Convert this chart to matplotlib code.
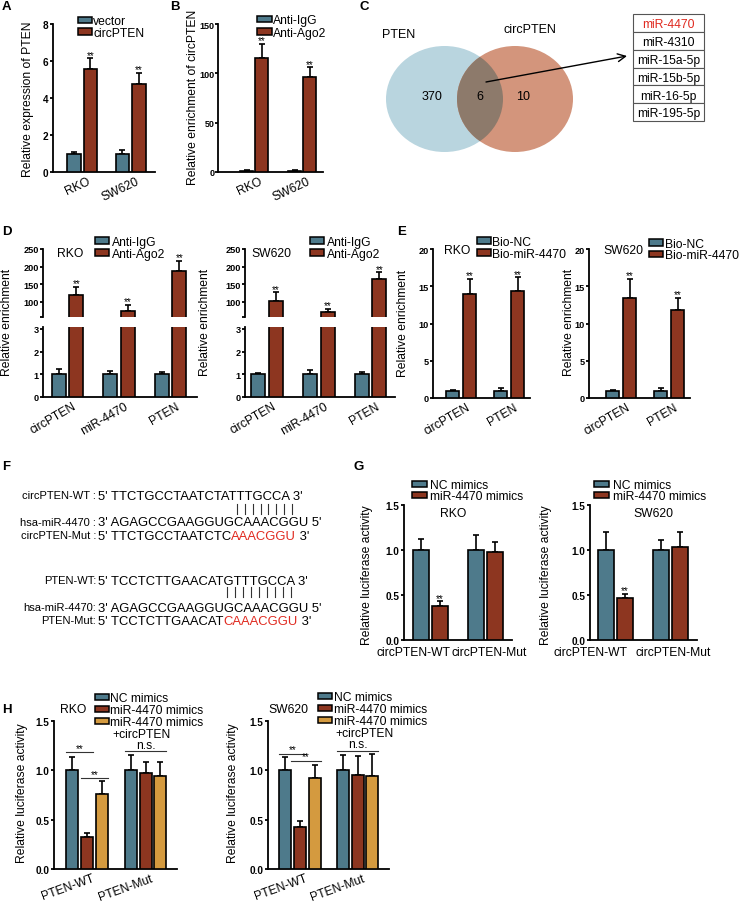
import numpy as np
import matplotlib
matplotlib.use("Agg")
import matplotlib.pyplot as plt
from matplotlib.patches import Rectangle, Ellipse

plt.rcParams['font.family'] = ['Liberation Sans', 'DejaVu Sans']

# ------------------------------------------------------------------ data
A_groups = ["RKO", "SW620"]
A_vector = [1.0, 1.0]
A_vector_err = [0.10, 0.20]
A_circ = [5.58, 4.73]
A_circ_err = [0.57, 0.63]

B_groups = ["RKO", "SW620"]
B_igg = [1.0, 1.0]
B_igg_err = [0.6, 0.6]
B_ago2 = [115.5, 96.0]
B_ago2_err = [14.5, 10.0]

venn_sets = ["PTEN", "circPTEN"]
venn_counts = [370, 6, 10]           # PTEN only, shared, circPTEN only
shared_mirnas = ["miR-4470", "miR-4310", "miR-15a-5p",
                 "miR-15b-5p", "miR-16-5p", "miR-195-5p"]

D_targets = ["circPTEN", "miR-4470", "PTEN"]
D_rko_igg = [1.0, 1.0, 1.0]
D_rko_igg_err = [0.22, 0.15, 0.10]
D_rko_ago2 = [119, 73, 187]
D_rko_ago2_err = [24, 18, 30]
D_sw_igg = [1.0, 1.0, 1.0]
D_sw_igg_err = [0.07, 0.17, 0.12]
D_sw_ago2 = [103, 70, 165]
D_sw_ago2_err = [24, 11, 19]

E_targets = ["circPTEN", "PTEN"]
E_rko_nc = [1.0, 1.0]
E_rko_nc_err = [0.12, 0.30]
E_rko_bio = [13.9, 14.4]
E_rko_bio_err = [2.1, 1.8]
E_sw_nc = [1.0, 1.0]
E_sw_nc_err = [0.12, 0.30]
E_sw_bio = [13.4, 11.8]
E_sw_bio_err = [2.6, 1.6]

G_reporters = ["circPTEN-WT", "circPTEN-Mut"]
G_rko_nc = [1.0, 1.0]
G_rko_nc_err = [0.12, 0.17]
G_rko_mim = [0.38, 0.98]
G_rko_mim_err = [0.05, 0.105]
G_sw_nc = [1.0, 1.0]
G_sw_nc_err = [0.20, 0.11]
G_sw_mim = [0.465, 1.035]
G_sw_mim_err = [0.045, 0.165]

H_reporters = ["PTEN-WT", "PTEN-Mut"]
H_rko_nc = [1.0, 1.0]
H_rko_nc_err = [0.135, 0.16]
H_rko_mim = [0.32, 0.975]
H_rko_mim_err = [0.045, 0.105]
H_rko_circ = [0.76, 0.946]
H_rko_circ_err = [0.135, 0.142]
H_sw_nc = [1.0, 1.0]
H_sw_nc_err = [0.135, 0.155]
H_sw_mim = [0.43, 0.95]
H_sw_mim_err = [0.06, 0.20]
H_sw_circ = [0.92, 0.945]
H_sw_circ_err = [0.135, 0.22]

F_rows = [
    ("circPTEN-WT :", [("5' TTCTGCCTAATCTATTTGCCA 3'", "k")]),
    ("hsa-miR-4470 :", [("3' AGAGCCGAAGGUGCAAACGGU 5'", "k")]),
    ("circPTEN-Mut :", [("5' TTCTGCCTAATCTC", "k"), ("AAACGGU", "red"), (" 3'", "k")]),
    ("PTEN-WT:", [("5' TCCTCTTGAACATGTTTGCCA 3'", "k")]),
    ("hsa-miR-4470:", [("3' AGAGCCGAAGGUGCAAACGGU 5'", "k")]),
    ("PTEN-Mut:", [("5' TCCTCTTGAACAT", "k"), ("CAAACGGU", "red"), (" 3'", "k")]),
]

# ------------------------------------------------------------------ style
BLUE = "#4e7a8b"
RED = "#8d3620"
ORANGE = "#d49a3f"
SEQRED = "#e02a20"
FS = 8.7

W, H = 739, 912
fig = plt.figure(figsize=(W / 100, H / 100), dpi=100)


def make_ax(x0, x1, ytop, ybot, c0, spacing, ylim, yticks, ylabels=None,
            bottom=True, tfs=7.0, tpad=1.0):
    ax = fig.add_axes([x0 / W, 1 - ybot / H, (x1 - x0) / W, (ybot - ytop) / H])
    ax.set_xlim((x0 - c0) / spacing, (x1 - c0) / spacing)
    ax.set_ylim(*ylim)
    ax.set_facecolor('none')
    for s in ['top', 'right']:
        ax.spines[s].set_visible(False)
    ax.spines['left'].set_linewidth(1.3)
    ax.spines['bottom'].set_linewidth(1.3)
    if not bottom:
        ax.spines['bottom'].set_visible(False)
    ax.tick_params(axis='y', direction='out', length=2.2, width=1.3,
                   labelsize=tfs, pad=tpad)
    ax.tick_params(axis='x', length=0, labelsize=FS, pad=2)
    if ylabels is None:
        ylabels = [f"{t:g}" for t in yticks]
    ax.set_yticks(yticks, labels=ylabels, fontweight='bold')
    if not bottom:
        ax.set_xticks([])
    return ax


def draw_bars(ax, vals, errs, color, off_px, bw_px, spacing):
    n = len(vals)
    x = np.arange(n) + off_px / spacing
    ax.bar(x, vals, width=bw_px / spacing, color=color, edgecolor='black',
           linewidth=1.2, zorder=3)
    ax.errorbar(x, vals, yerr=[np.zeros(n), errs], fmt='none', ecolor='black',
                elinewidth=1.2, capsize=2.5, capthick=1.2, zorder=2)
    return x


def stars(ax, x, vals, errs):
    for xi, v, e in zip(x, vals, errs):
        ax.annotate("**", (xi, v + e), xytext=(0, -1.0), textcoords='offset points',
                    ha='center', va='bottom', fontsize=7)


def rot_labels(ax, labels, spacing, rot, shift_px=5):
    ax.set_xticks(np.arange(len(labels)) + shift_px / spacing, labels=labels,
                  rotation=rot, ha='right', va='top', rotation_mode='anchor',
                  fontsize=FS)


# ------------------------------------------------------------------ A
sp = 48.5
axA = make_ax(53, 155, 25, 173, 82, sp, (0, 8), [0, 2, 4, 6, 8], tfs=7.2)
draw_bars(axA, A_vector, A_vector_err, BLUE, -8.25, 13.5, sp)
xa = draw_bars(axA, A_circ, A_circ_err, RED, 8.25, 13.5, sp)
stars(axA, xa, A_circ, A_circ_err)
rot_labels(axA, A_groups, sp, 25)

# ------------------------------------------------------------------ B
sp = 48
axB = make_ax(218, 323, 25, 173, 254, sp, (0, 150), [0, 50, 100, 150],
              tfs=6.5, tpad=0.5)
draw_bars(axB, B_igg, B_igg_err, BLUE, -7.5, 13, sp)
xb = draw_bars(axB, B_ago2, B_ago2_err, RED, 7.5, 13, sp)
stars(axB, xb, B_ago2, B_ago2_err)
rot_labels(axB, B_groups, sp, 25)

# ------------------------------------------------------------------ D (broken axes)
def panel_D(x0, x1, c0, sp, igg, igg_err, ago, ago_err):
    up = make_ax(x0, x1, 250, 318, c0, sp, (57, 250), [57, 100, 150, 200, 250],
                 ["", "100", "150", "200", "250"], bottom=False, tfs=6.6)
    lo = make_ax(x0, x1, 327.7, 398, c0, sp, (0, 3.1), [0, 1, 2, 3], tfs=6.6)
    for ax in (up, lo):
        draw_bars(ax, igg, igg_err, BLUE, -8.75, 14, sp)
        xg = draw_bars(ax, ago, ago_err, RED, 8.75, 14, sp)
    stars(up, xg, ago, ago_err)
    rot_labels(lo, D_targets, sp, 30)
    return up, lo


panel_D(43, 197, 67.5, 51.5, D_rko_igg, D_rko_igg_err, D_rko_ago2, D_rko_ago2_err)
panel_D(245, 395, 267, 51.75, D_sw_igg, D_sw_igg_err, D_sw_ago2, D_sw_ago2_err)

# ------------------------------------------------------------------ E
def panel_E(x0, x1, c0, nc, nc_err, bio, bio_err):
    sp = 48
    ax = make_ax(x0, x1, 250, 399, c0, sp, (0, 20), [0, 5, 10, 15, 20], tfs=6.6)
    draw_bars(ax, nc, nc_err, BLUE, -8.5, 13, sp)
    xe = draw_bars(ax, bio, bio_err, RED, 8.5, 13, sp)
    stars(ax, xe, bio, bio_err)
    rot_labels(ax, E_targets, sp, 30)
    return ax


panel_E(433, 530, 461, E_rko_nc, E_rko_nc_err, E_rko_bio, E_rko_bio_err)
panel_E(589, 690, 621, E_sw_nc, E_sw_nc_err, E_sw_bio, E_sw_bio_err)

# ------------------------------------------------------------------ G
def panel_G(x0, x1, c0, nc, nc_err, mim, mim_err, shifts):
    sp = 55
    ax = make_ax(x0, x1, 506, 641, c0, sp, (0, 1.5), [0, 0.5, 1.0, 1.5],
                 ["0.0", "0.5", "1.0", "1.5"], tfs=7.2)
    draw_bars(ax, nc, nc_err, BLUE, -9.5, 16, sp)
    xm = draw_bars(ax, mim, mim_err, RED, 9.5, 16, sp)
    stars(ax, xm[:1], mim[:1], mim_err[:1])
    ax.set_xticks(np.arange(2) + np.array(shifts) / sp, labels=G_reporters,
                  fontsize=FS)
    ax.tick_params(axis='x', pad=4)
    return ax


panel_G(404, 512, 430.5, G_rko_nc, G_rko_nc_err, G_rko_mim, G_rko_mim_err, [-17, 4])
panel_G(590, 697, 615.5, G_sw_nc, G_sw_nc_err, G_sw_mim, G_sw_mim_err, [-25, 3])

# ------------------------------------------------------------------ H
def panel_H(x0, x1, c0, sp, nc, nc_err, mim, mim_err, cc, cc_err, lines):
    ax = make_ax(x0, x1, 722, 870, c0, sp, (0, 1.5), [0, 0.5, 1.0, 1.5],
                 ["0.0", "0.5", "1.0", "1.5"], tfs=7.2)
    off = 14.75
    xn = draw_bars(ax, nc, nc_err, BLUE, -off, 12, sp)
    xm = draw_bars(ax, mim, mim_err, RED, 0, 12, sp)
    xc = draw_bars(ax, cc, cc_err, ORANGE, off, 12, sp)
    hw = 6 / sp
    for (xa_, xb_, yv, lab) in lines:
        ax.plot([xa_ - hw, xb_ + hw], [yv, yv], color='#333333', lw=0.8,
                clip_on=False)
        ax.annotate(lab, ((xa_ + xb_) / 2, yv), xytext=(0, -0.5 if lab == "**" else 0.3),
                    textcoords='offset points', ha='center', va='bottom',
                    fontsize=7 if lab == "**" else FS)
    rot_labels(ax, H_reporters, sp, 20)
    return xn, xm, xc


sp_h = 58.5
offs = 14.75 / sp_h
panel_H(54, 177, 87, sp_h, H_rko_nc, H_rko_nc_err, H_rko_mim, H_rko_mim_err,
        H_rko_circ, H_rko_circ_err,
        [(-offs, 0, 1.186, "**"), (0, offs, 0.922, "**"),
         (1 - offs, 1 + offs, 1.196, "n.s.")])
sp_h2 = 57.5
offs2 = 14.75 / sp_h2
panel_H(268, 389, 300, sp_h2, H_sw_nc, H_sw_nc_err, H_sw_mim, H_sw_mim_err,
        H_sw_circ, H_sw_circ_err,
        [(-offs2, 0, 1.168, "**"), (-offs2 + 0.2, offs2, 1.098, "**"),
         (1 - offs2, 1 + offs2, 1.198, "n.s.")])

# ------------------------------------------------------------------ overlay (pixel coords)
ov = fig.add_axes([0, 0, 1, 1])
ov.set_xlim(0, W)
ov.set_ylim(H, 0)
ov.axis('off')
ov.set_zorder(10)


def txt(x, yc, s, fs=FS, ha='left', **kw):
    return ov.text(x, yc + 0.497 * fs, s, fontsize=fs, ha=ha, va='baseline', **kw)


def vlabel(x, yc, s):
    ov.text(x, yc, s, rotation=90, ha='center', va='center', fontsize=FS)


def legend(x, rows, items, tx=None, pw=14):
    if tx is None:
        tx = x + pw + 2
    for yc, (lab, col) in zip(rows, items):
        ov.add_patch(Rectangle((x, yc - 3.3), pw, 6.6, facecolor=col,
                               edgecolor='black', lw=1.1))
        txt(tx, yc, lab)


# panel letters
for letter, (lx, ly) in {"A": (2, 2), "B": (170, 2), "C": (359, 2), "D": (2, 227),
                         "E": (397, 227), "F": (2, 462), "G": (353, 462),
                         "H": (2, 705)}.items():
    ov.text(lx, ly - 1, letter, fontsize=9.5, fontweight='bold', ha='left', va='top')

# y labels
vlabel(27.5, 99, "Relative expression of PTEN")
vlabel(193, 97, "Relative enrichment of circPTEN")
vlabel(7, 322, "Relative enrichment")
vlabel(205, 322, "Relative enrichment")
vlabel(403, 323, "Relative enrichment")
vlabel(569, 322, "Relative enrichment")
vlabel(367, 575, "Relative luciferase activity")
vlabel(546, 575, "Relative luciferase activity")
vlabel(22, 793, "Relative luciferase activity")
vlabel(233, 793, "Relative luciferase activity")

# legends
legend(78, [21, 32.3], [("vector", BLUE), ("circPTEN", RED)], tx=93.3)
legend(257, [20, 32.3], [("Anti-IgG", BLUE), ("Anti-Ago2", RED)], tx=273.3, pw=15)
legend(95, [241.7, 253.3], [("Anti-IgG", BLUE), ("Anti-Ago2", RED)], tx=111.7)
legend(310, [241.7, 253.3], [("Anti-IgG", BLUE), ("Anti-Ago2", RED)], tx=326.7)
legend(477, [241.7, 253.3], [("Bio-NC", BLUE), ("Bio-miR-4470", RED)], tx=491.7)
legend(649, [243.3, 255], [("Bio-NC", BLUE), ("Bio-miR-4470", RED)], tx=665)
legend(412, [485, 496], [("NC mimics", BLUE), ("miR-4470 mimics", RED)], tx=430, pw=15)
legend(594, [485, 496], [("NC mimics", BLUE), ("miR-4470 mimics", RED)], tx=612.7, pw=15)
legend(95, [698, 710, 722], [("NC mimics", BLUE), ("miR-4470 mimics", RED),
                             ("miR-4470 mimics", ORANGE)], tx=110)
txt(112, 733.5, "+circPTEN")
legend(318, [697, 709, 721], [("NC mimics", BLUE), ("miR-4470 mimics", RED),
                              ("miR-4470 mimics", ORANGE)], tx=333.5)
txt(335, 732.5, "+circPTEN")

# cell line titles
for (cx, cy, s) in [(70, 253, "RKO"), (271, 253, "SW620"), (457.5, 250, "RKO"),
                    (623, 250, "SW620"), (453, 513, "RKO"), (653, 513, "SW620"),
                    (73.5, 709, "RKO"), (288, 709, "SW620")]:
    txt(cx, cy, s, ha='center')

# ------------------------------------------------------------------ C: Venn
e1 = Ellipse((444.5, 100), 117, 106, facecolor="#b9d5df", edgecolor='none')
e2 = Ellipse((515, 100), 116, 106, facecolor="#d3957c", edgecolor='none')
e3 = Ellipse((515, 100), 116, 106, facecolor="#8d7a6b", edgecolor='none')
ov.add_patch(e1)
ov.add_patch(e2)
ov.add_patch(e3)
e3.set_clip_path(e1)
txt(399, 34, venn_sets[0], fs=9, ha='center')
txt(530, 29, venn_sets[1], fs=9, ha='center')
txt(432, 96, str(venn_counts[0]), fs=9, ha='center')
txt(480, 96, str(venn_counts[1]), fs=9, ha='center')
txt(523, 96, str(venn_counts[2]), fs=9, ha='center')
ov.annotate("", xy=(627, 57), xytext=(486, 83),
            arrowprops=dict(arrowstyle='->', lw=1.0, color='black',
                            mutation_scale=14, shrinkA=0, shrinkB=0))
rh = (122 - 15) / len(shared_mirnas)
for i, m in enumerate(shared_mirnas):
    y0 = 15 + i * rh
    ov.add_patch(Rectangle((633, y0), 71, rh, facecolor='white',
                           edgecolor='#555555', lw=0.8))
    txt(668.5, y0 + rh / 2, m, ha='center', color=SEQRED if i == 0 else 'black')

# ------------------------------------------------------------------ F: sequences
row_y = [495, 521.7, 535, 580, 607.3, 620]
SFS = 9.4
for (lab, parts), yc in zip(F_rows, row_y):
    txt(96, yc, lab, fs=8.0, ha='right')
    prev = None
    for s, col in parts:
        c = SEQRED if col == "red" else "black"
        if prev is None:
            prev = txt(98, yc, s, fs=SFS, color=c)
        else:
            prev = ov.annotate(s, xy=(1, 0), xycoords=prev, ha='left', va='bottom',
                               fontsize=SFS, color=c)
for (xs, xe, nb, ya, yb) in [(237.3, 291.7, 8, 505, 515), (227.3, 290.7, 9, 588, 598)]:
    for xv in np.linspace(xs, xe, nb):
        ov.plot([xv, xv], [ya, yb], color='#333333', lw=0.8)

fig.savefig("out.png", dpi=100)
